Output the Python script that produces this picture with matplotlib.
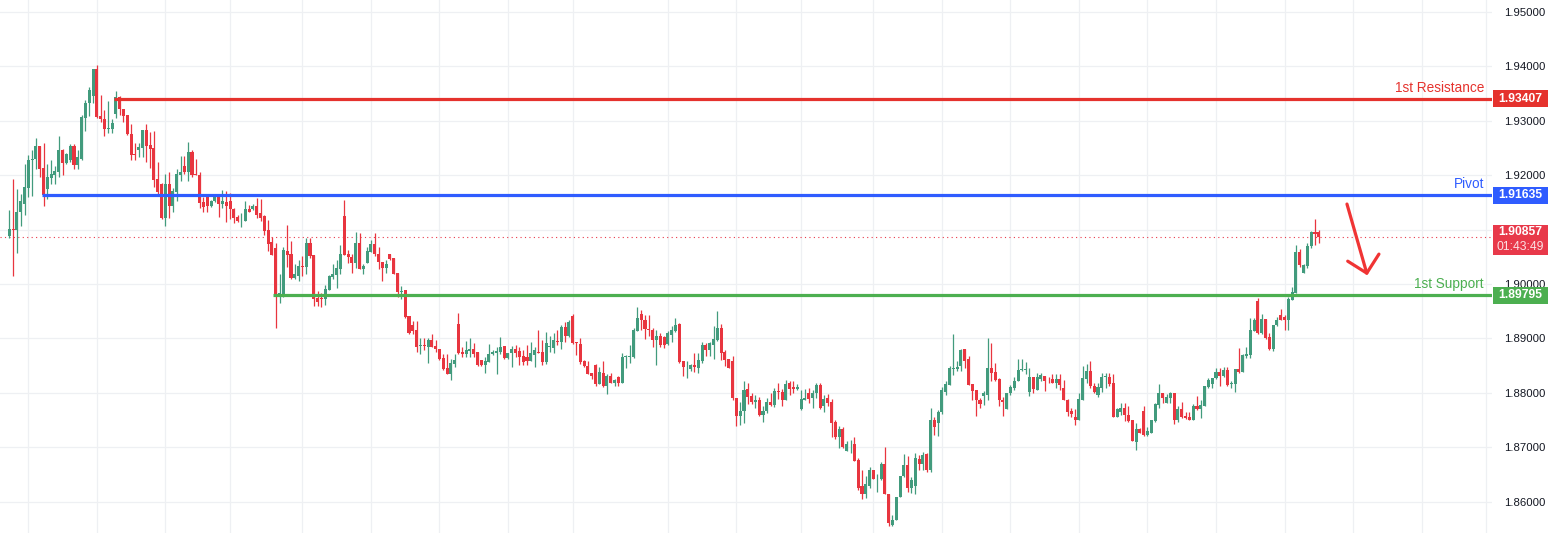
import matplotlib
matplotlib.use("Agg")
import matplotlib.pyplot as plt
import matplotlib.transforms as mtransforms
from matplotlib.patches import Rectangle

plt.rcParams['font.family'] = ['Liberation Sans', 'DejaVu Sans']

# candle data, oldest first
opens = [
    1.9088, 1.9102, 1.9099, 1.9132, 1.9147, 1.9177, 1.9228, 1.9229, 1.9253, 1.9213,
    1.9175, 1.9195, 1.9200, 1.9206, 1.9246, 1.9222, 1.9228, 1.9253, 1.9219, 1.9230,
    1.9306, 1.9332, 1.9346, 1.9395, 1.9309, 1.9304, 1.9285, 1.9285, 1.9312, 1.9344,
    1.9321, 1.9310, 1.9276, 1.9239, 1.9247, 1.9250, 1.9283, 1.9255, 1.9250, 1.9193,
    1.9184, 1.9121, 1.9184, 1.9144, 1.9170, 1.9201, 1.9217, 1.9206, 1.9242, 1.9202,
    1.9201, 1.9150, 1.9160, 1.9144, 1.9153, 1.9163, 1.9148, 1.9150, 1.9152, 1.9138,
    1.9123, 1.9117, 1.9116, 1.9138, 1.9138, 1.9144, 1.9131, 1.9125, 1.9099, 1.9077,
    1.9066, 1.8978, 1.8980, 1.9060, 1.9055, 1.9011, 1.9015, 1.9034, 1.9032, 1.9075,
    1.9054, 1.8974, 1.8974, 1.8973, 1.8989, 1.9013, 1.9017, 1.9028, 1.9125, 1.9055,
    1.9050, 1.9039, 1.9076, 1.9027, 1.9039, 1.9059, 1.9073, 1.9055, 1.9040, 1.9030,
    1.9055, 1.9048, 1.9021, 1.8986, 1.8989, 1.8941, 1.8924, 1.8915, 1.8887, 1.8888,
    1.8885, 1.8898, 1.8886, 1.8881, 1.8864, 1.8846, 1.8834, 1.8853, 1.8926, 1.8875,
    1.8871, 1.8877, 1.8881, 1.8875, 1.8860, 1.8851, 1.8857, 1.8871, 1.8874, 1.8875,
    1.8886, 1.8864, 1.8873, 1.8880, 1.8877, 1.8867, 1.8866, 1.8859, 1.8870, 1.8876,
    1.8875, 1.8856, 1.8884, 1.8882, 1.8896, 1.8894, 1.8921, 1.8905, 1.8942, 1.8893,
    1.8890, 1.8858, 1.8850, 1.8836, 1.8851, 1.8817, 1.8837, 1.8813, 1.8831, 1.8819,
    1.8829, 1.8819, 1.8866, 1.8866, 1.8866, 1.8913, 1.8945, 1.8934, 1.8918, 1.8916,
    1.8897, 1.8905, 1.8902, 1.8890, 1.8907, 1.8913, 1.8927, 1.8858, 1.8847, 1.8844,
    1.8851, 1.8845, 1.8858, 1.8888, 1.8878, 1.8888, 1.8897, 1.8919, 1.8875, 1.8862,
    1.8859, 1.8791, 1.8758, 1.8766, 1.8807, 1.8795, 1.8784, 1.8786, 1.8760, 1.8767,
    1.8783, 1.8778, 1.8804, 1.8802, 1.8786, 1.8818, 1.8810, 1.8807, 1.8770, 1.8787,
    1.8799, 1.8790, 1.8799, 1.8815, 1.8776, 1.8790, 1.8784, 1.8746, 1.8719, 1.8733,
    1.8694, 1.8707, 1.8706, 1.8677, 1.8628, 1.8615, 1.8628, 1.8658, 1.8641, 1.8641,
    1.8670, 1.8615, 1.8557, 1.8567, 1.8608, 1.8647, 1.8667, 1.8626, 1.8628, 1.8678,
    1.8669, 1.8688, 1.8658, 1.8750, 1.8745, 1.8765, 1.8802, 1.8814, 1.8844, 1.8843,
    1.8849, 1.8880, 1.8862, 1.8816, 1.8805, 1.8787, 1.8794, 1.8796, 1.8845, 1.8839,
    1.8825, 1.8787, 1.8770, 1.8799, 1.8808, 1.8821, 1.8842, 1.8842, 1.8802, 1.8830,
    1.8806, 1.8825, 1.8831, 1.8824, 1.8825, 1.8819, 1.8825, 1.8808, 1.8787, 1.8767,
    1.8756, 1.8750, 1.8786, 1.8826, 1.8841, 1.8813, 1.8796, 1.8808, 1.8830, 1.8830,
    1.8819, 1.8756, 1.8765, 1.8772, 1.8759, 1.8750, 1.8710, 1.8733, 1.8767, 1.8723,
    1.8727, 1.8748, 1.8778, 1.8799, 1.8782, 1.8791, 1.8799, 1.8750, 1.8770, 1.8757,
    1.8756, 1.8750, 1.8776, 1.8770, 1.8776, 1.8810, 1.8816, 1.8827, 1.8839, 1.8831,
    1.8842, 1.8817, 1.8817, 1.8844, 1.8839, 1.8868, 1.8870, 1.8914, 1.8968, 1.8910,
    1.8935, 1.8902, 1.8881, 1.8924, 1.8943, 1.8939, 1.8934, 1.8971, 1.8984, 1.9059,
    1.9021, 1.9033, 1.9069, 1.9096, 1.9095,
]
highs = [
    1.9136, 1.9193, 1.9174, 1.9165, 1.9220, 1.9237, 1.9246, 1.9269, 1.9254, 1.9259,
    1.9220, 1.9228, 1.9217, 1.9272, 1.9249, 1.9241, 1.9258, 1.9258, 1.9246, 1.9310,
    1.9338, 1.9363, 1.9396, 1.9402, 1.9347, 1.9320, 1.9336, 1.9304, 1.9355, 1.9346,
    1.9322, 1.9311, 1.9294, 1.9260, 1.9260, 1.9284, 1.9294, 1.9280, 1.9281, 1.9225,
    1.9185, 1.9203, 1.9206, 1.9177, 1.9212, 1.9235, 1.9235, 1.9261, 1.9246, 1.9229,
    1.9206, 1.9160, 1.9161, 1.9155, 1.9165, 1.9166, 1.9173, 1.9171, 1.9168, 1.9139,
    1.9127, 1.9131, 1.9152, 1.9146, 1.9147, 1.9158, 1.9156, 1.9126, 1.9117, 1.9087,
    1.9075, 1.9018, 1.9068, 1.9108, 1.9079, 1.9037, 1.9044, 1.9051, 1.9084, 1.9084,
    1.9054, 1.8987, 1.8983, 1.8999, 1.9016, 1.9036, 1.9044, 1.9071, 1.9154, 1.9062,
    1.9055, 1.9095, 1.9093, 1.9036, 1.9068, 1.9081, 1.9093, 1.9068, 1.9040, 1.9044,
    1.9056, 1.9048, 1.9021, 1.8997, 1.8989, 1.8941, 1.8932, 1.8932, 1.8900, 1.8900,
    1.8900, 1.8908, 1.8897, 1.8881, 1.8872, 1.8872, 1.8863, 1.8872, 1.8946, 1.8884,
    1.8896, 1.8900, 1.8891, 1.8875, 1.8860, 1.8866, 1.8889, 1.8878, 1.8885, 1.8902,
    1.8886, 1.8874, 1.8886, 1.8888, 1.8885, 1.8879, 1.8888, 1.8893, 1.8885, 1.8915,
    1.8897, 1.8912, 1.8904, 1.8910, 1.8916, 1.8925, 1.8931, 1.8933, 1.8945, 1.8894,
    1.8901, 1.8861, 1.8858, 1.8836, 1.8853, 1.8848, 1.8858, 1.8835, 1.8836, 1.8826,
    1.8831, 1.8874, 1.8870, 1.8888, 1.8919, 1.8958, 1.8953, 1.8943, 1.8943, 1.8919,
    1.8916, 1.8910, 1.8904, 1.8913, 1.8923, 1.8937, 1.8928, 1.8859, 1.8858, 1.8853,
    1.8873, 1.8873, 1.8894, 1.8891, 1.8894, 1.8922, 1.8951, 1.8927, 1.8879, 1.8862,
    1.8867, 1.8791, 1.8784, 1.8821, 1.8818, 1.8799, 1.8796, 1.8792, 1.8776, 1.8790,
    1.8799, 1.8809, 1.8818, 1.8807, 1.8824, 1.8822, 1.8821, 1.8817, 1.8806, 1.8807,
    1.8809, 1.8806, 1.8818, 1.8819, 1.8796, 1.8798, 1.8789, 1.8750, 1.8739, 1.8737,
    1.8712, 1.8713, 1.8718, 1.8680, 1.8658, 1.8647, 1.8664, 1.8658, 1.8651, 1.8672,
    1.8701, 1.8615, 1.8575, 1.8609, 1.8647, 1.8688, 1.8684, 1.8646, 1.8690, 1.8686,
    1.8692, 1.8690, 1.8773, 1.8756, 1.8768, 1.8811, 1.8821, 1.8849, 1.8909, 1.8859,
    1.8881, 1.8881, 1.8867, 1.8816, 1.8805, 1.8790, 1.8804, 1.8900, 1.8892, 1.8854,
    1.8827, 1.8793, 1.8800, 1.8814, 1.8829, 1.8862, 1.8862, 1.8856, 1.8846, 1.8830,
    1.8836, 1.8836, 1.8831, 1.8829, 1.8835, 1.8835, 1.8835, 1.8824, 1.8788, 1.8772,
    1.8770, 1.8799, 1.8850, 1.8853, 1.8859, 1.8818, 1.8818, 1.8837, 1.8837, 1.8837,
    1.8835, 1.8772, 1.8781, 1.8782, 1.8776, 1.8750, 1.8745, 1.8735, 1.8775, 1.8738,
    1.8751, 1.8782, 1.8816, 1.8800, 1.8798, 1.8802, 1.8799, 1.8775, 1.8784, 1.8765,
    1.8764, 1.8780, 1.8794, 1.8786, 1.8813, 1.8827, 1.8828, 1.8845, 1.8845, 1.8848,
    1.8848, 1.8821, 1.8844, 1.8882, 1.8872, 1.8884, 1.8937, 1.8937, 1.8975, 1.8945,
    1.8935, 1.8910, 1.8925, 1.8940, 1.8954, 1.8943, 1.8976, 1.8995, 1.9072, 1.9064,
    1.9036, 1.9075, 1.9098, 1.9119, 1.9100,
]
lows = [
    1.9084, 1.9015, 1.9057, 1.9106, 1.9127, 1.9160, 1.9161, 1.9211, 1.9197, 1.9144,
    1.9157, 1.9184, 1.9184, 1.9196, 1.9200, 1.9220, 1.9225, 1.9212, 1.9212, 1.9228,
    1.9282, 1.9309, 1.9332, 1.9306, 1.9298, 1.9273, 1.9277, 1.9278, 1.9306, 1.9310,
    1.9298, 1.9274, 1.9228, 1.9228, 1.9233, 1.9233, 1.9225, 1.9214, 1.9179, 1.9162,
    1.9120, 1.9107, 1.9121, 1.9133, 1.9153, 1.9190, 1.9202, 1.9190, 1.9197, 1.9201,
    1.9140, 1.9132, 1.9132, 1.9141, 1.9151, 1.9124, 1.9139, 1.9114, 1.9120, 1.9113,
    1.9114, 1.9105, 1.9115, 1.9132, 1.9136, 1.9121, 1.9116, 1.9091, 1.9061, 1.9053,
    1.8919, 1.8965, 1.8976, 1.9032, 1.9009, 1.9010, 1.9006, 1.9014, 1.9018, 1.9048,
    1.8959, 1.8959, 1.8958, 1.8962, 1.8989, 1.9009, 1.8992, 1.9019, 1.9053, 1.9039,
    1.9021, 1.9030, 1.9027, 1.9019, 1.9038, 1.9059, 1.9052, 1.9027, 1.9006, 1.9021,
    1.9045, 1.9018, 1.8976, 1.8973, 1.8938, 1.8909, 1.8909, 1.8875, 1.8871, 1.8878,
    1.8855, 1.8884, 1.8875, 1.8861, 1.8842, 1.8834, 1.8823, 1.8848, 1.8872, 1.8866,
    1.8865, 1.8866, 1.8866, 1.8849, 1.8849, 1.8837, 1.8857, 1.8869, 1.8834, 1.8872,
    1.8863, 1.8862, 1.8848, 1.8866, 1.8851, 1.8851, 1.8851, 1.8859, 1.8847, 1.8874,
    1.8851, 1.8853, 1.8876, 1.8873, 1.8888, 1.8881, 1.8894, 1.8902, 1.8890, 1.8870,
    1.8853, 1.8848, 1.8835, 1.8826, 1.8813, 1.8816, 1.8810, 1.8798, 1.8818, 1.8812,
    1.8812, 1.8819, 1.8845, 1.8855, 1.8864, 1.8913, 1.8916, 1.8899, 1.8904, 1.8885,
    1.8851, 1.8885, 1.8883, 1.8888, 1.8893, 1.8912, 1.8855, 1.8831, 1.8828, 1.8841,
    1.8839, 1.8837, 1.8855, 1.8868, 1.8867, 1.8862, 1.8896, 1.8861, 1.8850, 1.8845,
    1.8787, 1.8739, 1.8741, 1.8745, 1.8780, 1.8780, 1.8773, 1.8758, 1.8747, 1.8763,
    1.8775, 1.8774, 1.8788, 1.8776, 1.8786, 1.8796, 1.8799, 1.8806, 1.8769, 1.8787,
    1.8781, 1.8772, 1.8790, 1.8770, 1.8764, 1.8775, 1.8719, 1.8715, 1.8699, 1.8698,
    1.8694, 1.8689, 1.8675, 1.8621, 1.8604, 1.8606, 1.8626, 1.8641, 1.8618, 1.8639,
    1.8615, 1.8555, 1.8555, 1.8567, 1.8608, 1.8646, 1.8618, 1.8616, 1.8614, 1.8659,
    1.8659, 1.8655, 1.8655, 1.8723, 1.8721, 1.8761, 1.8796, 1.8814, 1.8832, 1.8841,
    1.8841, 1.8846, 1.8814, 1.8787, 1.8758, 1.8772, 1.8778, 1.8787, 1.8822, 1.8821,
    1.8776, 1.8757, 1.8770, 1.8796, 1.8805, 1.8821, 1.8841, 1.8835, 1.8794, 1.8799,
    1.8805, 1.8821, 1.8804, 1.8819, 1.8818, 1.8808, 1.8805, 1.8786, 1.8757, 1.8756,
    1.8741, 1.8750, 1.8786, 1.8818, 1.8808, 1.8799, 1.8793, 1.8802, 1.8808, 1.8812,
    1.8756, 1.8756, 1.8759, 1.8748, 1.8747, 1.8712, 1.8695, 1.8726, 1.8721, 1.8720,
    1.8726, 1.8747, 1.8772, 1.8781, 1.8781, 1.8782, 1.8743, 1.8747, 1.8753, 1.8752,
    1.8750, 1.8750, 1.8769, 1.8753, 1.8776, 1.8808, 1.8808, 1.8825, 1.8812, 1.8830,
    1.8813, 1.8808, 1.8802, 1.8837, 1.8839, 1.8864, 1.8864, 1.8913, 1.8908, 1.8908,
    1.8899, 1.8879, 1.8877, 1.8923, 1.8933, 1.8916, 1.8916, 1.8971, 1.8984, 1.9032,
    1.9020, 1.9030, 1.9067, 1.9072, 1.9075,
]
closes = [
    1.9102, 1.9100, 1.9133, 1.9152, 1.9179, 1.9228, 1.9229, 1.9253, 1.9212, 1.9163,
    1.9196, 1.9202, 1.9207, 1.9246, 1.9222, 1.9239, 1.9253, 1.9219, 1.9233, 1.9307,
    1.9332, 1.9356, 1.9395, 1.9307, 1.9303, 1.9285, 1.9287, 1.9296, 1.9344, 1.9321,
    1.9309, 1.9276, 1.9238, 1.9237, 1.9252, 1.9283, 1.9254, 1.9249, 1.9191, 1.9169,
    1.9122, 1.9184, 1.9144, 1.9171, 1.9202, 1.9206, 1.9206, 1.9242, 1.9201, 1.9201,
    1.9149, 1.9141, 1.9144, 1.9153, 1.9163, 1.9148, 1.9153, 1.9144, 1.9138, 1.9122,
    1.9115, 1.9118, 1.9138, 1.9133, 1.9144, 1.9127, 1.9122, 1.9098, 1.9073, 1.9054,
    1.8979, 1.8983, 1.9062, 1.9054, 1.9011, 1.9018, 1.9034, 1.9032, 1.9075, 1.9052,
    1.8973, 1.8967, 1.8973, 1.8991, 1.9015, 1.9018, 1.9029, 1.9055, 1.9053, 1.9049,
    1.9039, 1.9076, 1.9027, 1.9033, 1.9061, 1.9073, 1.9055, 1.9040, 1.9030, 1.9037,
    1.9046, 1.9019, 1.8986, 1.8987, 1.8940, 1.8910, 1.8914, 1.8885, 1.8888, 1.8887,
    1.8897, 1.8885, 1.8880, 1.8862, 1.8844, 1.8834, 1.8854, 1.8860, 1.8874, 1.8871,
    1.8878, 1.8881, 1.8872, 1.8851, 1.8851, 1.8858, 1.8872, 1.8875, 1.8877, 1.8885,
    1.8864, 1.8873, 1.8880, 1.8874, 1.8865, 1.8856, 1.8859, 1.8873, 1.8879, 1.8874,
    1.8856, 1.8891, 1.8884, 1.8897, 1.8894, 1.8921, 1.8905, 1.8930, 1.8891, 1.8892,
    1.8856, 1.8850, 1.8835, 1.8831, 1.8817, 1.8839, 1.8813, 1.8831, 1.8819, 1.8824,
    1.8819, 1.8866, 1.8866, 1.8868, 1.8916, 1.8937, 1.8933, 1.8917, 1.8915, 1.8897,
    1.8905, 1.8888, 1.8888, 1.8910, 1.8915, 1.8925, 1.8856, 1.8847, 1.8847, 1.8851,
    1.8847, 1.8861, 1.8888, 1.8879, 1.8891, 1.8899, 1.8919, 1.8874, 1.8861, 1.8845,
    1.8790, 1.8758, 1.8767, 1.8806, 1.8793, 1.8784, 1.8786, 1.8760, 1.8767, 1.8783,
    1.8778, 1.8804, 1.8801, 1.8786, 1.8817, 1.8807, 1.8807, 1.8810, 1.8789, 1.8790,
    1.8788, 1.8799, 1.8815, 1.8772, 1.8789, 1.8782, 1.8745, 1.8719, 1.8733, 1.8701,
    1.8706, 1.8707, 1.8675, 1.8626, 1.8615, 1.8632, 1.8658, 1.8641, 1.8641, 1.8670,
    1.8615, 1.8560, 1.8567, 1.8608, 1.8647, 1.8667, 1.8626, 1.8640, 1.8680, 1.8670,
    1.8686, 1.8658, 1.8750, 1.8738, 1.8765, 1.8805, 1.8816, 1.8846, 1.8844, 1.8848,
    1.8878, 1.8859, 1.8814, 1.8804, 1.8786, 1.8779, 1.8799, 1.8845, 1.8837, 1.8824,
    1.8786, 1.8784, 1.8799, 1.8810, 1.8822, 1.8842, 1.8842, 1.8842, 1.8830, 1.8807,
    1.8829, 1.8832, 1.8822, 1.8823, 1.8819, 1.8825, 1.8814, 1.8787, 1.8764, 1.8761,
    1.8750, 1.8788, 1.8828, 1.8841, 1.8812, 1.8802, 1.8810, 1.8830, 1.8830, 1.8816,
    1.8756, 1.8770, 1.8772, 1.8759, 1.8749, 1.8712, 1.8733, 1.8726, 1.8723, 1.8729,
    1.8750, 1.8780, 1.8799, 1.8790, 1.8792, 1.8799, 1.8750, 1.8770, 1.8756, 1.8753,
    1.8750, 1.8776, 1.8770, 1.8778, 1.8813, 1.8824, 1.8828, 1.8839, 1.8831, 1.8842,
    1.8815, 1.8818, 1.8844, 1.8839, 1.8870, 1.8871, 1.8916, 1.8934, 1.8910, 1.8935,
    1.8900, 1.8881, 1.8924, 1.8934, 1.8934, 1.8934, 1.8973, 1.8986, 1.9059, 1.9035,
    1.9035, 1.9070, 1.9096, 1.9092, 1.90857,
]
assert len(opens) == len(highs) == len(lows) == len(closes), (len(opens), len(highs), len(lows), len(closes))

# drawn levels: (label, price, first candle index)
level_names = ["1st Resistance", "Pivot", "1st Support"]
level_prices = [1.93407, 1.91635, 1.89795]
level_starts = [27.5, 8.5, 69.3]
level_colors = ["#e5322d", "#2f5cff", "#4caf50"]

price_ticks = [1.86, 1.87, 1.88, 1.89, 1.90, 1.91, 1.92, 1.93, 1.94, 1.95]
grid_bars = [5, 23, 41, 58, 77, 95, 113, 131, 148, 173, 191, 208, 227, 245,
             263, 281, 299, 317, 335, 353, 371, 388]
countdown = "01:43:49"

# hand drawn arrow (bar index, price)
arrow_x = [351.4, 356.6]
arrow_y = [1.9147, 1.9020]
head_x = [351.6, 356.6, 359.8]
head_y = [1.9042, 1.9020, 1.9055]

UP = "#429b7d"
DOWN = "#e8353f"
LAST = "#e8394a"

W, H = 1564, 533
AX_RIGHT = 1492
fig = plt.figure(figsize=(W / 100, H / 100), dpi=100)
ax = fig.add_axes([0, 0, AX_RIGHT / W, 1])

ytop, ybot = 1.952206, 1.854241
dpp = (ytop - ybot) / H          # price per pixel
ax.set_ylim(ybot, ytop)
ax.set_xlim(-2.44, 389.5)

# grid
for gx in grid_bars:
    ax.axvline(gx, color="#eef0f3", lw=0.9, zorder=0)
for gy in price_ticks:
    ax.axhline(gy, color="#eef0f3", lw=0.9, zorder=0)

# candles
n = len(closes)
xs = list(range(n))
cols = [UP if c >= o else DOWN for o, c in zip(opens, closes)]
ax.vlines(xs, lows, highs, colors=cols, lw=0.9, zorder=2)
bottoms = [min(o, c) for o, c in zip(opens, closes)]
heights = [max(abs(c - o), 0.00013) for o, c in zip(opens, closes)]
ax.bar(xs, heights, bottom=bottoms, width=0.8, color=cols, linewidth=0, zorder=3)

# current price dotted line
last = closes[-1]
ax.axhline(last, color=LAST, lw=0.8, ls=(0, (1, 3)), zorder=1)

# support / resistance lines and their labels
for name, price, start, colr in zip(level_names, level_prices, level_starts, level_colors):
    ax.hlines(price, start, 389.5, color=colr, lw=2.3, zorder=4)
    ax.annotate(name, xy=(1, price), xycoords=("axes fraction", "data"),
                xytext=(-8, 4), textcoords="offset pixels",
                ha="right", va="bottom", fontsize=9.8, color=colr)

# arrow
ax.plot(arrow_x, arrow_y, color="#f03434", lw=2.3, solid_capstyle="round", zorder=5)
ax.plot(head_x, head_y, color="#f03434", lw=2.3, solid_capstyle="round",
        solid_joinstyle="round", zorder=5)

# price scale
ax.yaxis.tick_right()
ax.set_yticks(price_ticks)
ax.set_yticklabels(["%.5f" % t for t in price_ticks])
ax.tick_params(axis="y", length=0, pad=9, labelsize=8.2, labelcolor="#131722")
ax.set_xticks([])
for s in ax.spines.values():
    s.set_visible(False)

# price boxes on the scale (drawn above the tick labels)
trans = mtransforms.blended_transform_factory(fig.transFigure, ax.transData)
bx, bw = 1493 / W, 55 / W
for price, colr in zip(level_prices, level_colors):
    fig.add_artist(Rectangle((bx, price - 8.5 * dpp), bw, 17 * dpp,
                             transform=trans, color=colr, lw=0, zorder=10))
    fig.text(bx + bw / 2, price, "%.5f" % price, transform=trans, ha="center",
             va="center", color="white", fontsize=8.7, fontweight="bold", zorder=11)

fig.add_artist(Rectangle((bx, last - 18 * dpp), bw, 30 * dpp,
                         transform=trans, color=LAST, lw=0, zorder=10))
fig.text(bx + bw / 2, last + 5 * dpp, "%.5f" % last, transform=trans, ha="center",
         va="center", color="white", fontsize=8.7, fontweight="bold", zorder=11)
fig.text(bx + bw / 2, last - 10 * dpp, countdown, transform=trans, ha="center",
         va="center", color="#fbe0e3", fontsize=8.7, zorder=11)

fig.savefig("out.png", dpi=100)
